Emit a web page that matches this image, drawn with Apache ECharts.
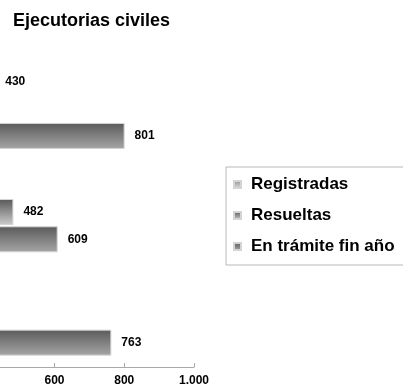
<!DOCTYPE html>
<html>
<head>
<meta charset="utf-8">
<script src="https://cdn.jsdelivr.net/npm/echarts@6/dist/echarts.min.js"></script>
<style>
  html, body { margin: 0; padding: 0; background: #fff; overflow: hidden; width: 403px; height: 387px; position: relative; }
  /* the plot starts left of the visible window, so the value axis origin sits off-screen */
  #chart { position: absolute; left: -161px; top: 0; width: 564px; height: 387px; }
</style>
</head>
<body>
<div id="chart"></div>
<script>
// Ejecutorias civiles: registradas, resueltas y en trámite a fin de año
const categories = ['2009', '2010', '2011'];
const registradas = [310, 328, 430];
const resueltas = [290, 482, 238];
const enTramite = [763, 609, 801];
const xTicks = [0, 200, 400, 600, 800, 1000];

const FONT = 'Liberation Sans, Arial, Helvetica, sans-serif';
const SHIFT = 161; // horizontal offset of the chart box

function grad(top, bottom) {
  return new echarts.graphic.LinearGradient(0, 0, 0, 1, [
    { offset: 0, color: top },
    { offset: 1, color: bottom }
  ]);
}

function fmtThousands(v) {
  return String(v).replace(/\B(?=(\d{3})+(?!\d))/g, '.');
}

const labelStyle = {
  show: true,
  position: 'right',
  distance: 10,
  color: '#000',
  fontFamily: FONT,
  fontWeight: 'bold',
  fontSize: 12
};

function barSeries(name, data, top, bottom) {
  return {
    name: name,
    type: 'bar',
    data: data,
    barWidth: 26,
    barGap: '5%',
    itemStyle: { color: grad(top, bottom), borderColor: '#d4d4d4', borderWidth: 1 },
    label: labelStyle,
    emphasis: { disabled: true }
  };
}

const chart = echarts.init(document.getElementById('chart'), null, { renderer: 'canvas' });
chart.setOption({
  animation: false,
  backgroundColor: '#fff',
  title: {
    text: 'Ejecutorias civiles',
    left: 13 + SHIFT,
    top: 12,
    padding: 0,
    textStyle: { fontFamily: FONT, fontWeight: 'bold', fontSize: 18, color: '#000' }
  },
  legend: {
    orient: 'vertical',
    left: 226 + SHIFT,
    top: 167,
    padding: [9, 20, 10, 7],
    itemGap: 14,
    itemWidth: 7,
    itemHeight: 7,
    icon: 'rect',
    borderColor: '#b8b8b8',
    borderWidth: 1,
    textStyle: { fontFamily: FONT, fontWeight: 'bold', fontSize: 17, color: '#000', padding: [0, 0, 0, 5] },
    data: ['Registradas', 'Resueltas', 'En trámite fin año']
  },
  grid: { left: 0, right: 209, top: 57, bottom: 20, containLabel: false },
  xAxis: {
    type: 'value',
    min: xTicks[0],
    max: xTicks[xTicks.length - 1],
    interval: xTicks[1] - xTicks[0],
    splitLine: { show: false },
    axisLine: { show: true, lineStyle: { color: '#a8a8a8', width: 1 } },
    axisTick: { show: true, inside: true, length: 4, lineStyle: { color: '#a8a8a8' } },
    axisLabel: {
      margin: 8,
      color: '#000',
      fontFamily: FONT,
      fontWeight: 'bold',
      fontSize: 12,
      formatter: fmtThousands
    }
  },
  yAxis: {
    type: 'category',
    data: categories,
    axisLine: { show: false },
    axisTick: { show: false },
    axisLabel: { show: false }
  },
  series: [
    barSeries('Registradas', registradas, '#8e8e8e', '#e2e2e2'),
    barSeries('Resueltas', resueltas, '#575757', '#cccccc'),
    barSeries('En trámite fin año', enTramite, '#5a5a5a', '#a6a6a6')
  ]
});
</script>
</body>
</html>
